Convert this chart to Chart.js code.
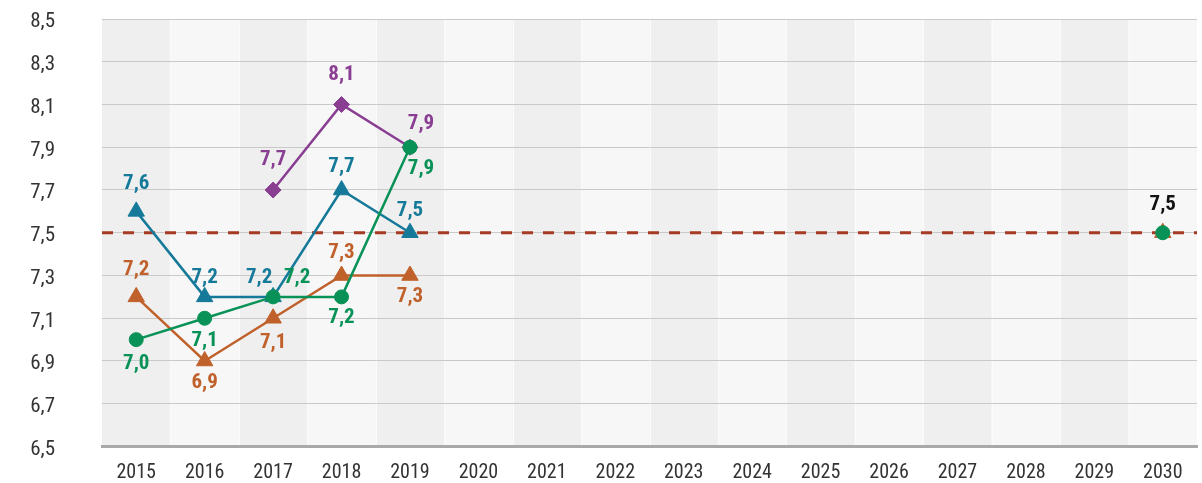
<!DOCTYPE html>
<html>
<head>
<meta charset="utf-8">
<script src="https://cdn.jsdelivr.net/npm/chart.js@4.4.1/dist/chart.umd.min.js"></script>
<style>
html,body{margin:0;padding:0;background:#ffffff;}
#wrap{width:1202px;height:483px;position:relative;}
</style>
</head>
<body>
<div id="wrap"><canvas id="c"></canvas></div>
<script>
// ---- data ----
const years = ['2015','2016','2017','2018','2019','2020','2021','2022','2023','2024','2025','2026','2027','2028','2029','2030'];
const greenValues  = [7.0, 7.1, 7.2, 7.2, 7.9, null, null, null, null, null, null, null, null, null, null, 7.5];
const blueValues   = [7.6, 7.2, 7.2, 7.7, 7.5, null, null, null, null, null, null, null, null, null, null, null];
const orangeValues = [7.2, 6.9, 7.1, 7.3, 7.3, null, null, null, null, null, null, null, null, null, null, 7.5];
const purpleValues = [null, null, 7.7, 8.1, 7.9, null, null, null, null, null, null, null, null, null, null, null];
const targetValues = [null, null, null, null, null, null, null, null, null, null, null, null, null, null, null, 7.5];
const targetLine = 7.5;
const yMin = 6.5, yMax = 8.5, yStep = 0.2;

// ---- styles ----
const FONT = "'Liberation Sans Narrow', 'Roboto Condensed', 'Arial Narrow', 'Liberation Sans', sans-serif";
const GREEN = '#089257', BLUE = '#157a99', ORANGE = '#c0602b', PURPLE = '#8a3e92', TARGET = '#a53b22';

// label placement per point [dx, dy] (style only)
const greenLabelPos  = [[0,24],[0,22],[24,-19],[0,21],[11,21]];
const blueLabelPos   = [[0,-28],[0,-19],[-14,-19],[0,-23],[0,-22]];
const orangeLabelPos = [[0,-27],[0,22],[0,24],[0,-23],[0,21]];
const purpleLabelPos = [null,null,[0,-30],[0,-30],[11,-24]];
const targetLabelPos = {15:[0,-28]};

const fmt = v => v.toFixed(1).replace('.', ',');

const bandPlugin = {
  id: 'bands',
  beforeDraw(chart) {
    const {ctx, chartArea: a, scales: {x}} = chart;
    ctx.save();
    const n = years.length;
    const w = (a.right - a.left) / n;
    for (let i = 0; i < n; i++) {
      const cx = x.getPixelForValue(i);
      ctx.fillStyle = (i % 2 === 0) ? '#efefef' : '#f7f7f7';
      ctx.fillRect(cx - w / 2, a.top, w, a.bottom - a.top);
    }
    ctx.strokeStyle = '#fbfbfb';
    ctx.lineWidth = 1;
    for (let i = 1; i < n; i++) {
      const bx = Math.round(x.getPixelForValue(i) - w / 2) + 0.5;
      ctx.beginPath(); ctx.moveTo(bx, a.top); ctx.lineTo(bx, a.bottom); ctx.stroke();
    }
    ctx.restore();
  },
  beforeDatasetsDraw(chart) {
    const {ctx, chartArea: a, scales: {y}} = chart;
    const py = y.getPixelForValue(targetLine);
    ctx.save();
    ctx.strokeStyle = TARGET;
    ctx.lineWidth = 3;
    ctx.setLineDash([11, 10]);
    ctx.beginPath(); ctx.moveTo(a.left, py); ctx.lineTo(a.right, py); ctx.stroke();
    ctx.restore();
  },
  afterDatasetsDraw(chart) {
    const {ctx} = chart;
    ctx.save();
    ctx.font = "bold 21px " + FONT;
    ctx.textAlign = 'center';
    ctx.textBaseline = 'middle';
    chart.data.datasets.forEach((ds, di) => {
      const meta = chart.getDatasetMeta(di);
      ds.data.forEach((v, i) => {
        if (v === null) return;
        const pos = ds.labelPos[i];
        if (!pos) return;
        const el = meta.data[i];
        ctx.fillStyle = ds.labelColor;
        ctx.fillText(fmt(v), el.x + pos[0], el.y + pos[1]);
      });
    });
    ctx.restore();
  }
};

const common = {tension: 0, borderWidth: 2.5, spanGaps: false, pointBorderWidth: 1};

new Chart(document.getElementById('c'), {
  type: 'line',
  data: {
    labels: years,
    datasets: [
      {label: 'Ziel', data: targetValues, showLine: false, pointRadius: 0, labelColor: '#111111', labelPos: targetLabelPos, borderColor: '#111', backgroundColor: '#111'},
      Object.assign({label: 'Grün', data: greenValues, borderColor: GREEN, backgroundColor: GREEN, pointBorderColor: GREEN, pointStyle: 'circle', pointRadius: 7, labelColor: GREEN, labelPos: greenLabelPos}, common),
      Object.assign({label: 'Blau', data: blueValues, borderColor: BLUE, backgroundColor: BLUE, pointBorderColor: BLUE, pointStyle: 'triangle', pointRadius: 9.5, labelColor: BLUE, labelPos: blueLabelPos}, common),
      Object.assign({label: 'Orange', data: orangeValues, borderColor: ORANGE, backgroundColor: ORANGE, pointBorderColor: ORANGE, pointStyle: 'triangle', pointRadius: 9.5, labelColor: ORANGE, labelPos: orangeLabelPos}, common),
      Object.assign({label: 'Lila', data: purpleValues, borderColor: PURPLE, backgroundColor: PURPLE, pointBorderColor: PURPLE, pointStyle: 'rectRot', pointRadius: 8, labelColor: PURPLE, labelPos: purpleLabelPos}, common)
    ]
  },
  options: {
    responsive: true,
    maintainAspectRatio: false,
    animation: false,
    events: [],
    layout: {autoPadding: false, padding: {top: 19, right: 5, left: 0, bottom: 0}},
    plugins: {legend: {display: false}, tooltip: {enabled: false}},
    scales: {
      x: {
        type: 'category',
        offset: true,
        grid: {display: false, drawTicks: false},
        border: {display: true, color: '#a9a9a9', width: 3},
        ticks: {color: '#333333', font: {family: FONT, size: 20}, padding: 14, maxRotation: 0, autoSkip: false},
        afterFit(s) { s.height = 36.5; s.paddingLeft = 0; s.paddingRight = 0; }
      },
      y: {
        min: yMin, max: yMax,
        grid: {color: '#c9c9c9', lineWidth: 1, drawTicks: false},
        border: {display: false},
        ticks: {stepSize: yStep, color: '#333333', font: {family: FONT, size: 21}, padding: 47, labelOffset: 3,
                callback: v => fmt(v)},
        afterFit(s) { s.width = 102; s.paddingTop = 0; s.paddingBottom = 0; }
      }
    }
  },
  plugins: [bandPlugin]
});
</script>
</body>
</html>
